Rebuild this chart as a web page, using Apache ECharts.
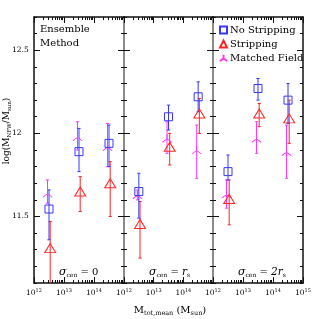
<!DOCTYPE html>
<html><head><meta charset="utf-8">
<script src="https://cdn.jsdelivr.net/npm/echarts@6/dist/echarts.min.js"></script>
<style>html,body{margin:0;padding:0;background:#fff}#c{width:319px;height:319px}</style>
</head><body><div id="c"></div>
<script>
// x positions: log10 of M_tot,mean (M_sun)
const massNoStrip = [12.5, 13.5, 14.5];
const massStrip = [12.54, 13.54, 14.54];
const massField = [12.45, 13.45, 14.45];

// Panel 1: sigma_cen = 0
const p1NoStrip = [11.545, 11.89, 11.94];
const p1NoStripLo = [11.36, 11.77, 11.80];
const p1NoStripHi = [11.66, 12.03, 12.05];
const p1Strip = [11.31, 11.65, 11.70];
const p1StripLo = [11.0, 11.53, 11.50];
const p1StripHi = [11.47, 11.74, 11.83];
const p1Field = [11.64, 11.98, 11.92];
const p1FieldLo = [11.58, 11.90, 11.80];
const p1FieldHi = [11.72, 12.07, 12.06];

// Panel 2: sigma_cen = r_s
const p2NoStrip = [11.65, 12.10, 12.22];
const p2NoStripLo = [11.49, 12.02, 12.13];
const p2NoStripHi = [11.76, 12.17, 12.31];
const p2Strip = [11.455, 11.92, 12.12];
const p2StripLo = [11.25, 11.81, 12.00];
const p2StripHi = [11.59, 12.00, 12.21];
const p2Field = [11.63, 11.97, 11.90];
const p2FieldLo = [11.60, 11.88, 11.73];
const p2FieldHi = [11.66, 12.07, 12.05];

// Panel 3: sigma_cen = 2 r_s
const p3NoStrip = [11.77, 12.27, 12.20];
const p3NoStripLo = [11.72, 12.20, 12.06];
const p3NoStripHi = [11.87, 12.33, 12.30];
const p3Strip = [11.605, 12.12, 12.09];
const p3StripLo = [11.45, 12.04, 11.94];
const p3StripHi = [11.72, 12.18, 12.20];
const p3Field = [11.635, 11.97, 11.89];
const p3FieldLo = [11.55, 11.88, 11.73];
const p3FieldHi = [11.72, 12.07, 12.05];

// axis ticks / labels
const xDecades = [12, 13, 14, 15];
const xMinorMult = [2, 3, 4, 5, 6, 7, 8, 9];
const xLabelsP1 = [12, 13, 14];
const xLabelsP2 = [12, 13, 14];
const xLabelsP3 = [12, 13, 14, 15];
const yMajor = [11.5, 12, 12.5];
const yMinor = [11.1, 11.2, 11.3, 11.4, 11.5, 11.6, 11.7, 11.8, 11.9, 12.0, 12.1, 12.2, 12.3, 12.4, 12.5, 12.6, 12.7];
const seriesNames = ['No Stripping', 'Stripping', 'Matched Field'];
const panelTexts = ['0', 'r_s', '2r_s'];

const xMinor = [];
[12, 13, 14].forEach(d => xMinorMult.forEach(k => xMinor.push(d + Math.log10(k))));

const C_BLUE = '#3636ff', C_RED = '#ff2626', C_MAG = '#ff36ff';
const FONT = 'DejaVu Serif';
const BLACK = '#111';
const GRAY = '#8a8a8a';

const panels = [
  {ns: p1NoStrip, nsLo: p1NoStripLo, nsHi: p1NoStripHi, s: p1Strip, sLo: p1StripLo, sHi: p1StripHi, f: p1Field, fLo: p1FieldLo, fHi: p1FieldHi, labels: xLabelsP1},
  {ns: p2NoStrip, nsLo: p2NoStripLo, nsHi: p2NoStripHi, s: p2Strip, sLo: p2StripLo, sHi: p2StripHi, f: p2Field, fLo: p2FieldLo, fHi: p2FieldHi, labels: xLabelsP2},
  {ns: p3NoStrip, nsLo: p3NoStripLo, nsHi: p3NoStripHi, s: p3Strip, sLo: p3StripLo, sHi: p3StripHi, f: p3Field, fLo: p3FieldLo, fHi: p3FieldHi, labels: xLabelsP3}
];

const grids = [
  {left: 34, top: 17, width: 90, height: 266},
  {left: 124, top: 17, width: 89, height: 266},
  {left: 213, top: 17, width: 90, height: 266}
];

const xAxes = [], yAxes = [], series = [];

function xAx(gi, pos, major, labels) {
  return {
    gridIndex: gi, type: 'value', min: 12, max: 15, position: pos,
    axisLine: {show: major, lineStyle: {color: BLACK, width: 1.5}},
    axisTick: {show: true, inside: true, length: major ? 6 : 3, customValues: major ? xDecades : xMinor, lineStyle: {color: BLACK, width: 1}},
    axisLabel: labels ? {
      show: true, customValues: labels, margin: 5,
      formatter: v => '{b|10}{s|' + Math.round(v) + '}',
      rich: {
        b: {fontFamily: FONT, fontSize: 7.5, color: '#000'},
        s: {fontFamily: FONT, fontSize: 5, color: '#000', padding: [0, 0, 5, 0]}
      }
    } : {show: false},
    splitLine: {show: false}
  };
}
function yAx(gi, pos, major, lineColor, lineWidth, labels) {
  return {
    gridIndex: gi, type: 'value', min: 11.1, max: 12.7, position: pos,
    axisLine: {show: major, lineStyle: {color: lineColor, width: lineWidth}},
    axisTick: {show: true, inside: true, length: major ? 6 : 3, customValues: major ? yMajor : yMinor, lineStyle: {color: BLACK, width: 1}},
    axisLabel: labels ? {show: true, customValues: yMajor, align: 'left', margin: 22, fontFamily: FONT, fontSize: 7.5, color: '#000'} : {show: false},
    splitLine: {show: false}
  };
}

function errRender(params, api) {
  const x = api.value(0), lo = api.value(1), hi = api.value(2);
  const a = api.coord([x, lo]), b = api.coord([x, hi]);
  const c = 1.6;
  const st = {stroke: api.visual('color'), lineWidth: 1, fill: null};
  return {type: 'group', children: [
    {type: 'line', shape: {x1: a[0], y1: a[1], x2: b[0], y2: b[1]}, style: st},
    {type: 'line', shape: {x1: a[0] - c, y1: a[1], x2: a[0] + c, y2: a[1]}, style: st},
    {type: 'line', shape: {x1: b[0] - c, y1: b[1], x2: b[0] + c, y2: b[1]}, style: st}
  ]};
}

const tripod = 'path://M5,0 L5,5.5 M5,5.5 Q2.5,6.2 0,9 M5,5.5 Q7.5,6.2 10,9';

panels.forEach((p, gi) => {
  const xb = xAxes.length;
  xAxes.push(xAx(gi, 'bottom', true, p.labels));
  xAxes.push(xAx(gi, 'bottom', false, null));
  xAxes.push(xAx(gi, 'top', true, null));
  xAxes.push(xAx(gi, 'top', false, null));
  const yb = yAxes.length;
  const leftColor = gi === 0 ? BLACK : GRAY, leftW = gi === 0 ? 1.5 : 2;
  const rightColor = gi === 2 ? BLACK : GRAY, rightW = gi === 2 ? 1.5 : 2;
  yAxes.push(yAx(gi, 'left', true, leftColor, leftW, gi === 0));
  yAxes.push(yAx(gi, 'left', false, leftColor, leftW, false));
  yAxes.push(yAx(gi, 'right', true, rightColor, rightW, false));
  yAxes.push(yAx(gi, 'right', false, rightColor, rightW, false));

  const groups = [
    {name: seriesNames[2], m: massField, v: p.f, lo: p.fLo, hi: p.fHi, color: C_MAG, symbol: tripod, size: [9, 8]},
    {name: seriesNames[1], m: massStrip, v: p.s, lo: p.sLo, hi: p.sHi, color: C_RED, symbol: 'triangle', size: [11, 9]},
    {name: seriesNames[0], m: massNoStrip, v: p.ns, lo: p.nsLo, hi: p.nsHi, color: C_BLUE, symbol: 'rect', size: 8}
  ];
  groups.forEach(g => {
    series.push({
      type: 'custom', name: 'err-' + g.name, xAxisIndex: xb, yAxisIndex: yb, clip: true,
      itemStyle: {color: g.color}, renderItem: errRender,
      data: g.m.map((m, i) => [m, g.lo[i], g.hi[i]]), z: 3, silent: true
    });
  });
  groups.forEach(g => {
    series.push({
      type: 'scatter', name: g.name, xAxisIndex: xb, yAxisIndex: yb,
      symbol: g.symbol, symbolSize: g.size,
      itemStyle: {color: 'rgba(255,255,255,0)', borderColor: g.color, borderWidth: 1, opacity: 1},
      data: g.m.map((m, i) => [m, g.v[i]]), z: 4, silent: true
    });
  });
});

function sigmaText(gi) {
  const t = panelTexts[gi];
  let s = '{g|σ}{sub|cen}{t| = }';
  if (t.indexOf('_') >= 0) {
    const parts = t.split('_');
    s += '{it|' + parts[0] + '}{sub|' + parts[1] + '}';
  } else s += '{t|' + t + '}';
  return s;
}
const sigRich = {
  g: {fontFamily: FONT, fontSize: 11, fontStyle: 'italic', fill: '#000'},
  it: {fontFamily: FONT, fontSize: 10.5, fontStyle: 'italic', fill: '#000'},
  t: {fontFamily: FONT, fontSize: 10, fill: '#000'},
  sub: {fontFamily: FONT, fontSize: 6, fill: '#000', padding: [6, 0, 0, 0]}
};

const graphics = [
  {type: 'text', x: 40, y: 29.5, style: {text: 'Ensemble', fontFamily: FONT, fontSize: 10, fill: '#000', verticalAlign: 'middle'}},
  {type: 'text', x: 40, y: 43.5, style: {text: 'Method', fontFamily: FONT, fontSize: 10, fill: '#000', verticalAlign: 'middle'}},
  {type: 'text', x: 170, y: 310, style: {text: '{t|M}{s|tot,mean}{t| (M}{s|sun}{t|)}', align: 'center', verticalAlign: 'middle',
    rich: {t: {fontFamily: FONT, fontSize: 10, fill: '#000'}, s: {fontFamily: FONT, fontSize: 6.5, fill: '#000', padding: [6, 0, 0, 0]}}}},
  {type: 'text', x: 7, y: 131, rotation: Math.PI / 2, style: {text: '{t|log(M}{s|NFW}{t|/M}{s|sun}{t|)}', align: 'center', verticalAlign: 'middle',
    rich: {t: {fontFamily: FONT, fontSize: 9, fill: '#000'}, s: {fontFamily: FONT, fontSize: 5.5, fill: '#000', padding: [5, 0, 0, 0]}}}}
];
[0, 1, 2].forEach(gi => {
  graphics.push({type: 'text', x: grids[gi].left + 25, y: 272, style: {text: sigmaText(gi), verticalAlign: 'middle', rich: sigRich}});
});

const chart = echarts.init(document.getElementById('c'), null, {renderer: 'canvas'});
chart.setOption({
  animation: false,
  backgroundColor: '#fff',
  grid: grids,
  xAxis: xAxes,
  yAxis: yAxes,
  series: series,
  legend: {
    data: seriesNames, orient: 'vertical', left: 214, top: 20, itemWidth: 7, itemHeight: 7, itemGap: 4,
    textStyle: {fontFamily: FONT, fontSize: 10, color: '#000', padding: [0, 0, 0, -2]},
    selectedMode: false
  },
  graphic: graphics
});
</script></body></html>
